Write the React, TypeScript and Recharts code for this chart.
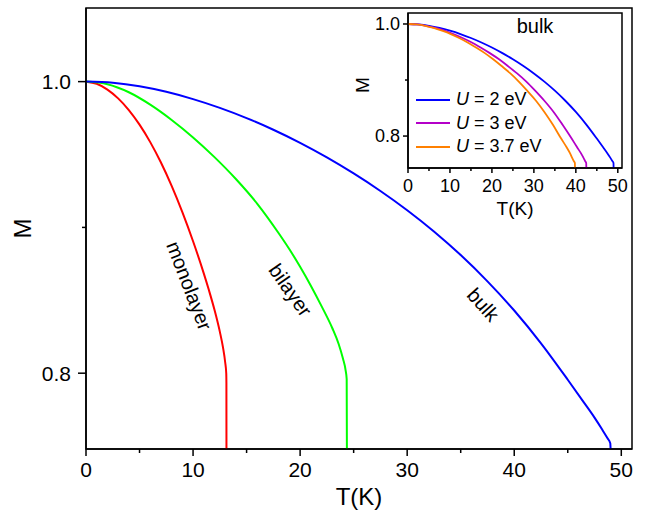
import React from 'react';
import { LineChart, Line, XAxis, YAxis, ReferenceArea, ReferenceDot, Legend, Label } from 'recharts';

const FONT = '"Liberation Sans", Arial, sans-serif';

// main panel: M(T) for monolayer / bilayer / bulk
const monoT = [0, 1, 2, 3, 4, 5, 6, 7, 8, 9, 10, 11, 11.5, 12, 12.5, 12.8, 13.0, 13.1, 13.115, 13.12];
const monoM = [1.0, 0.9985, 0.9945, 0.9885, 0.9805, 0.9705, 0.9585, 0.9445, 0.9285, 0.9105, 0.8905, 0.8685, 0.8565, 0.8435, 0.8285, 0.8175, 0.8075, 0.8, 0.7935, 0.748];

const biT = [0, 2, 4, 6, 8, 10, 12, 14, 16, 18, 19, 20, 21, 22, 23, 23.6, 24.0, 24.25, 24.35, 24.37];
const biM = [1.0, 0.9982, 0.9927, 0.9842, 0.9737, 0.9617, 0.9482, 0.9332, 0.9162, 0.896, 0.885, 0.873, 0.86, 0.846, 0.831, 0.82, 0.81, 0.802, 0.796, 0.748];

const bulkT = [0, 2.5, 5, 7.5, 10, 12.5, 15, 17.5, 20, 22.5, 25, 27.5, 30, 32.5, 35, 37.5, 40, 42.5, 45, 46.5, 47.5, 48.2, 48.7, 48.97, 49.0];
const bulkM = [1.0, 0.9992, 0.9968, 0.993, 0.988, 0.982, 0.975, 0.967, 0.958, 0.948, 0.937, 0.925, 0.9118, 0.8972, 0.881, 0.863, 0.843, 0.8205, 0.7955, 0.78, 0.7695, 0.7615, 0.7555, 0.752, 0.748];

// inset: bulk for three U values
const u2T = [0, 2.5, 5, 7.5, 10, 12.5, 15, 17.5, 20, 22.5, 25, 27.5, 30, 32.5, 35, 37.5, 40, 42.5, 45, 46.5, 47.5, 48.2, 48.7, 48.97, 49.0];
const u3T = [0, 2.2, 4.3, 6.5, 8.7, 10.8, 13.0, 15.2, 17.3, 19.5, 21.7, 23.8, 26.0, 28.2, 30.3, 32.5, 34.7, 36.8, 39.0, 40.3, 41.2, 41.8, 42.2, 42.47, 42.5];
const u37T = [0, 2.0, 4.1, 6.1, 8.1, 10.2, 12.2, 14.2, 16.2, 18.3, 20.3, 22.3, 24.4, 26.4, 28.4, 30.5, 32.5, 34.5, 36.5, 37.8, 38.6, 39.1, 39.5, 39.77, 39.8];
const insetM = [1.0, 0.9992, 0.9968, 0.993, 0.988, 0.982, 0.975, 0.967, 0.958, 0.948, 0.937, 0.925, 0.9118, 0.8972, 0.881, 0.863, 0.843, 0.8205, 0.7955, 0.78, 0.7695, 0.7615, 0.7555, 0.752, 0.743];

const xTicks = [0, 5, 10, 15, 20, 25, 30, 35, 40, 45, 50];
const yTicks = [0.8, 0.9, 1.0];
const yLabels = [0.8, 1.0];

const zip = (t: number[], m: number[]) => t.map((v, i) => ({ t: v, m: m[i] }));

const makeXTick = (len: number, minor: number, fs: number, dy: number) => (props: any) => {
  const { x, y, payload } = props;
  const major = payload.value % 10 === 0;
  return (
    <g>
      <line x1={x} x2={x} y1={y} y2={y + (major ? len : minor)} stroke="#000" strokeWidth={1.5} />
      {major && (
        <text x={x} y={y + dy} textAnchor="middle" dominantBaseline="central" fontSize={fs} fontFamily={FONT} fill="#000">
          {payload.value}
        </text>
      )}
    </g>
  );
};

const makeYTick = (len: number, minor: number, fs: number, dx: number) => (props: any) => {
  const { x, y, payload } = props;
  const major = yLabels.some((v) => Math.abs(v - payload.value) < 1e-6);
  return (
    <g>
      <line x1={x} x2={x - (major ? len : minor)} y1={y} y2={y} stroke="#000" strokeWidth={1.5} />
      {major && (
        <text x={x - dx} y={y} textAnchor="end" dominantBaseline="central" fontSize={fs} fontFamily={FONT} fill="#000">
          {payload.value.toFixed(1)}
        </text>
      )}
    </g>
  );
};

const curveLabel = (text: string, angle: number) => (props: any) => {
  const { x, y } = props.viewBox;
  return (
    <text x={x} y={y} transform={`rotate(${angle} ${x} ${y})`} textAnchor="middle" dominantBaseline="central" fontSize={20} fontFamily={FONT} fill="#000">
      {text}
    </text>
  );
};

const renderLegend = (props: any) => (
  <div style={{ fontFamily: FONT, fontSize: 18, color: '#000' }}>
    {props.payload.map((e: any) => (
      <div key={e.value} style={{ display: 'flex', alignItems: 'center', height: 23.5 }}>
        <svg width={34} height={4}>
          <line x1={0} x2={34} y1={2} y2={2} stroke={e.color} strokeWidth={2} />
        </svg>
        <span style={{ marginLeft: 6, whiteSpace: 'nowrap' }}>
          <i>U</i>
          {e.value.slice(1)}
        </span>
      </div>
    ))}
  </div>
);

export default function App() {
  return (
    <div style={{ position: 'absolute', left: 0, top: 0, width: 647, height: 512, background: '#fff' }}>
      <LineChart width={647} height={512} margin={{ top: 8, right: 15, bottom: 0, left: 0 }}>
        <XAxis type="number" dataKey="t" domain={[0, 51]} ticks={xTicks} interval={0} tickSize={0} tickMargin={0}
          tick={makeXTick(7, 4, 21, 20)} tickLine={false} axisLine={{ stroke: '#000', strokeWidth: 1.5 }} height={63} allowDataOverflow>
          <Label content={(p: any) => (
            <text x={p.viewBox.x + p.viewBox.width / 2} y={p.viewBox.y + 47} textAnchor="middle" dominantBaseline="central" fontSize={24} fontFamily={FONT} fill="#000">T(K)</text>
          )} />
        </XAxis>
        <YAxis type="number" domain={[0.748, 1.0505]} ticks={yTicks} interval={0} tickSize={0} tickMargin={0}
          tick={makeYTick(8, 4, 21, 15)} tickLine={false} axisLine={{ stroke: '#000', strokeWidth: 1.5 }} width={86} allowDataOverflow>
          <Label content={(p: any) => (
            <text x={p.viewBox.x + 22} y={p.viewBox.y + p.viewBox.height / 2} transform={`rotate(-90 ${p.viewBox.x + 22} ${p.viewBox.y + p.viewBox.height / 2})`} textAnchor="middle" dominantBaseline="central" fontSize={24} fontFamily={FONT} fill="#000">M</text>
          )} />
        </YAxis>
        <ReferenceArea x1={0} x2={51} y1={0.748} y2={1.0505} fill="none" stroke="#000" strokeWidth={1.5} />
        <Line data={zip(monoT, monoM)} dataKey="m" type="monotone" stroke="#ff0000" strokeWidth={2} dot={false} activeDot={false} isAnimationActive={false} />
        <Line data={zip(biT, biM)} dataKey="m" type="monotone" stroke="#00ff00" strokeWidth={2} dot={false} activeDot={false} isAnimationActive={false} />
        <Line data={zip(bulkT, bulkM)} dataKey="m" type="monotone" stroke="#0000ff" strokeWidth={2} dot={false} activeDot={false} isAnimationActive={false} />
        <ReferenceDot x={9.65} y={0.86} r={0} fill="none" stroke="none" label={{ content: curveLabel('monolayer', 69) }} />
        <ReferenceDot x={19.1} y={0.857} r={0} fill="none" stroke="none" label={{ content: curveLabel('bilayer', 55) }} />
        <ReferenceDot x={37.1} y={0.847} r={0} fill="none" stroke="none" label={{ content: curveLabel('bulk', 48) }} />
      </LineChart>

      <div style={{ position: 'absolute', left: 340, top: 0 }}>
        <LineChart width={300} height={226} margin={{ top: 13, right: 18, bottom: 0, left: 0 }}>
          <XAxis type="number" dataKey="t" domain={[0, 51]} ticks={xTicks} interval={0} tickSize={0} tickMargin={0}
            tick={makeXTick(5, 3, 18, 18)} tickLine={false} axisLine={{ stroke: '#000', strokeWidth: 1.5 }} height={58} allowDataOverflow>
            <Label content={(p: any) => (
              <text x={p.viewBox.x + p.viewBox.width / 2} y={p.viewBox.y + 40} textAnchor="middle" dominantBaseline="central" fontSize={19} fontFamily={FONT} fill="#000">T(K)</text>
            )} />
          </XAxis>
          <YAxis type="number" domain={[0.743, 1.0196]} ticks={yTicks} interval={0} tickSize={0} tickMargin={0}
            tick={makeYTick(5, 3, 18, 8)} tickLine={false} axisLine={{ stroke: '#000', strokeWidth: 1.5 }} width={68} allowDataOverflow>
            <Label content={(p: any) => (
              <text x={p.viewBox.x + 22} y={85} transform={`rotate(-90 ${p.viewBox.x + 22} 85)`} textAnchor="middle" dominantBaseline="central" fontSize={19} fontFamily={FONT} fill="#000">M</text>
            )} />
          </YAxis>
          <ReferenceArea x1={0} x2={51} y1={0.743} y2={1.0196} fill="none" stroke="#000" strokeWidth={1.5}>
            <Label content={(p: any) => (
              <text x={p.viewBox.x + 127} y={p.viewBox.y + 13} textAnchor="middle" dominantBaseline="central" fontSize={20} fontFamily={FONT} fill="#000">bulk</text>
            )} />
          </ReferenceArea>
          <Line name="U = 2 eV" data={zip(u2T, insetM)} dataKey="m" type="monotone" stroke="#0000ff" strokeWidth={1.8} dot={false} activeDot={false} isAnimationActive={false} />
          <Line name="U = 3 eV" data={zip(u3T, insetM)} dataKey="m" type="monotone" stroke="#b400c8" strokeWidth={1.8} dot={false} activeDot={false} isAnimationActive={false} />
          <Line name="U = 3.7 eV" data={zip(u37T, insetM)} dataKey="m" type="monotone" stroke="#ff8000" strokeWidth={1.8} dot={false} activeDot={false} isAnimationActive={false} />
          <Legend layout="vertical" align="center" verticalAlign="middle" wrapperStyle={{ left: 76, top: 88, width: 'auto' }} content={renderLegend} />
        </LineChart>
      </div>
    </div>
  );
}
